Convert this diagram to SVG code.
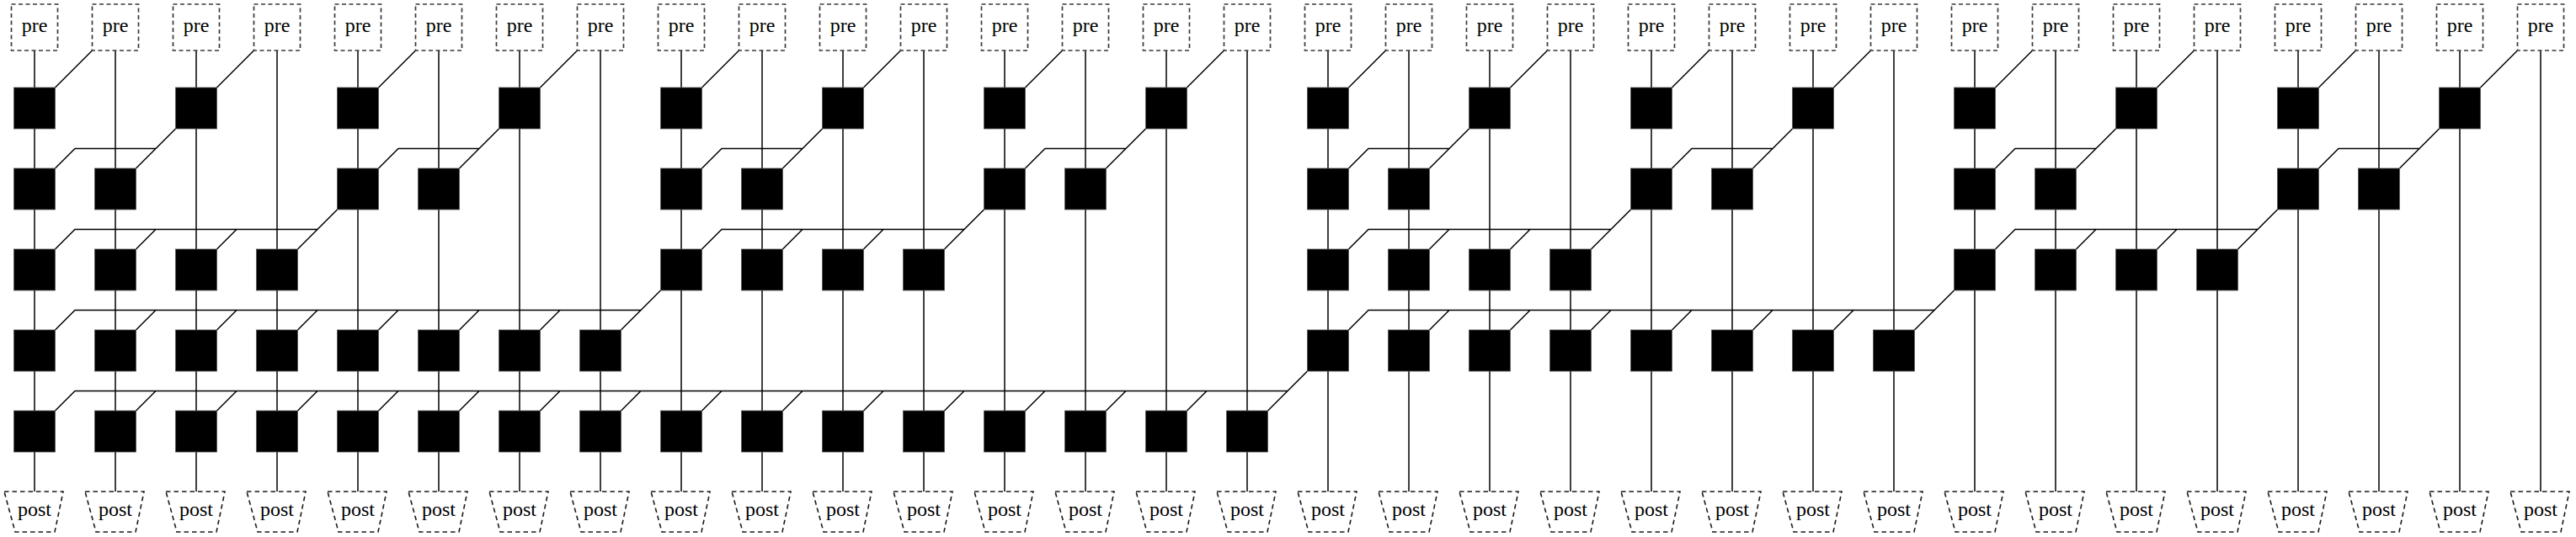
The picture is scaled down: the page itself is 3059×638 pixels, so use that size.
<svg xmlns="http://www.w3.org/2000/svg" xmlns:xlink="http://www.w3.org/1999/xlink" width="3059" height="638" viewBox="0 0 3059 638">
<style>
.pre{fill:#fff;stroke:#3a3a3a;stroke-width:1.7;stroke-dasharray:5 3.5}
.post{fill:#fff;stroke:#1a1a1a;stroke-width:1.6;stroke-dasharray:5.5 4}
.lbl{font-family:"Liberation Serif","DejaVu Serif",serif;font-size:24px;text-anchor:middle;fill:#000}
.wire{fill:none;stroke:#000;stroke-width:1.5}
.op{fill:#000;stroke:#555;stroke-width:0.8}
</style>
<defs>
<rect id="sq" class="op" x="-24.5" y="-24.5" width="49" height="49"/>
</defs>
<rect width="3059" height="638" fill="#fff"/>
<g id="connectors" class="wire">
<path d="M41 60V584M137 60V584M233 60V584M329 60V584M425 60V584M521 60V584M617 60V584M713 60V584M809 60V584M905 60V584M1001 60V584M1097 60V584M1193 60V584M1289 60V584M1385 60V584M1481 60V584M1577 60V584M1673 60V584M1769 60V584M1865 60V584M1961 60V584M2057 60V584M2153 60V584M2249 60V584M2345 60V584M2441 60V584M2537 60V584M2633 60V584M2729 60V584M2825 60V584M2921 60V584M3017 60V584"/>
<path d="M109.5 60l-44 44M301.5 60l-44 44M493.5 60l-44 44M685.5 60l-44 44M877.5 60l-44 44M1069.5 60l-44 44M1261.5 60l-44 44M1453.5 60l-44 44M1645.5 60l-44 44M1837.5 60l-44 44M2029.5 60l-44 44M2221.5 60l-44 44M2413.5 60l-44 44M2605.5 60l-44 44M2797.5 60l-44 44M2989.5 60l-44 44"/>
<path d="M208.5 153l-23.5 23.5H89l-23.5 23.5M185 176.5l-23.5 23.5
M592.5 153l-23.5 23.5H473l-23.5 23.5M569 176.5l-23.5 23.5
M976.5 153l-23.5 23.5H857l-23.5 23.5M953 176.5l-23.5 23.5
M1360.5 153l-23.5 23.5H1241l-23.5 23.5M1337 176.5l-23.5 23.5
M1744.5 153l-23.5 23.5H1625l-23.5 23.5M1721 176.5l-23.5 23.5
M2128.5 153l-23.5 23.5H2009l-23.5 23.5M2105 176.5l-23.5 23.5
M2512.5 153l-23.5 23.5H2393l-23.5 23.5M2489 176.5l-23.5 23.5
M2896.5 153l-23.5 23.5H2777l-23.5 23.5M2873 176.5l-23.5 23.5"/>
<path d="M400.5 249l-23.5 23.5H89l-23.5 23.5M185 272.5l-23.5 23.5M281 272.5l-23.5 23.5M377 272.5l-23.5 23.5
M1168.5 249l-23.5 23.5H857l-23.5 23.5M953 272.5l-23.5 23.5M1049 272.5l-23.5 23.5M1145 272.5l-23.5 23.5
M1936.5 249l-23.5 23.5H1625l-23.5 23.5M1721 272.5l-23.5 23.5M1817 272.5l-23.5 23.5M1913 272.5l-23.5 23.5
M2704.5 249l-23.5 23.5H2393l-23.5 23.5M2489 272.5l-23.5 23.5M2585 272.5l-23.5 23.5M2681 272.5l-23.5 23.5"/>
<path d="M784.5 345l-23.5 23.5H89l-23.5 23.5M185 368.5l-23.5 23.5M281 368.5l-23.5 23.5M377 368.5l-23.5 23.5M473 368.5l-23.5 23.5M569 368.5l-23.5 23.5M665 368.5l-23.5 23.5M761 368.5l-23.5 23.5
M2320.5 345l-23.5 23.5H1625l-23.5 23.5M1721 368.5l-23.5 23.5M1817 368.5l-23.5 23.5M1913 368.5l-23.5 23.5M2009 368.5l-23.5 23.5M2105 368.5l-23.5 23.5M2201 368.5l-23.5 23.5M2297 368.5l-23.5 23.5"/>
<path d="M1552.5 441l-23.5 23.5H89l-23.5 23.5M185 464.5l-23.5 23.5M281 464.5l-23.5 23.5M377 464.5l-23.5 23.5M473 464.5l-23.5 23.5M569 464.5l-23.5 23.5M665 464.5l-23.5 23.5M761 464.5l-23.5 23.5M857 464.5l-23.5 23.5M953 464.5l-23.5 23.5M1049 464.5l-23.5 23.5M1145 464.5l-23.5 23.5M1241 464.5l-23.5 23.5M1337 464.5l-23.5 23.5M1433 464.5l-23.5 23.5M1529 464.5l-23.5 23.5"/>
</g>
<g id="pre-nodes">
<g id="pre0" transform="translate(41 0)"><rect class="pre" x="-27.5" y="5" width="55" height="55"/><text class="lbl" x="0" y="38">pre</text></g>
<g id="pre1" transform="translate(137 0)"><rect class="pre" x="-27.5" y="5" width="55" height="55"/><text class="lbl" x="0" y="38">pre</text></g>
<g id="pre2" transform="translate(233 0)"><rect class="pre" x="-27.5" y="5" width="55" height="55"/><text class="lbl" x="0" y="38">pre</text></g>
<g id="pre3" transform="translate(329 0)"><rect class="pre" x="-27.5" y="5" width="55" height="55"/><text class="lbl" x="0" y="38">pre</text></g>
<g id="pre4" transform="translate(425 0)"><rect class="pre" x="-27.5" y="5" width="55" height="55"/><text class="lbl" x="0" y="38">pre</text></g>
<g id="pre5" transform="translate(521 0)"><rect class="pre" x="-27.5" y="5" width="55" height="55"/><text class="lbl" x="0" y="38">pre</text></g>
<g id="pre6" transform="translate(617 0)"><rect class="pre" x="-27.5" y="5" width="55" height="55"/><text class="lbl" x="0" y="38">pre</text></g>
<g id="pre7" transform="translate(713 0)"><rect class="pre" x="-27.5" y="5" width="55" height="55"/><text class="lbl" x="0" y="38">pre</text></g>
<g id="pre8" transform="translate(809 0)"><rect class="pre" x="-27.5" y="5" width="55" height="55"/><text class="lbl" x="0" y="38">pre</text></g>
<g id="pre9" transform="translate(905 0)"><rect class="pre" x="-27.5" y="5" width="55" height="55"/><text class="lbl" x="0" y="38">pre</text></g>
<g id="pre10" transform="translate(1001 0)"><rect class="pre" x="-27.5" y="5" width="55" height="55"/><text class="lbl" x="0" y="38">pre</text></g>
<g id="pre11" transform="translate(1097 0)"><rect class="pre" x="-27.5" y="5" width="55" height="55"/><text class="lbl" x="0" y="38">pre</text></g>
<g id="pre12" transform="translate(1193 0)"><rect class="pre" x="-27.5" y="5" width="55" height="55"/><text class="lbl" x="0" y="38">pre</text></g>
<g id="pre13" transform="translate(1289 0)"><rect class="pre" x="-27.5" y="5" width="55" height="55"/><text class="lbl" x="0" y="38">pre</text></g>
<g id="pre14" transform="translate(1385 0)"><rect class="pre" x="-27.5" y="5" width="55" height="55"/><text class="lbl" x="0" y="38">pre</text></g>
<g id="pre15" transform="translate(1481 0)"><rect class="pre" x="-27.5" y="5" width="55" height="55"/><text class="lbl" x="0" y="38">pre</text></g>
<g id="pre16" transform="translate(1577 0)"><rect class="pre" x="-27.5" y="5" width="55" height="55"/><text class="lbl" x="0" y="38">pre</text></g>
<g id="pre17" transform="translate(1673 0)"><rect class="pre" x="-27.5" y="5" width="55" height="55"/><text class="lbl" x="0" y="38">pre</text></g>
<g id="pre18" transform="translate(1769 0)"><rect class="pre" x="-27.5" y="5" width="55" height="55"/><text class="lbl" x="0" y="38">pre</text></g>
<g id="pre19" transform="translate(1865 0)"><rect class="pre" x="-27.5" y="5" width="55" height="55"/><text class="lbl" x="0" y="38">pre</text></g>
<g id="pre20" transform="translate(1961 0)"><rect class="pre" x="-27.5" y="5" width="55" height="55"/><text class="lbl" x="0" y="38">pre</text></g>
<g id="pre21" transform="translate(2057 0)"><rect class="pre" x="-27.5" y="5" width="55" height="55"/><text class="lbl" x="0" y="38">pre</text></g>
<g id="pre22" transform="translate(2153 0)"><rect class="pre" x="-27.5" y="5" width="55" height="55"/><text class="lbl" x="0" y="38">pre</text></g>
<g id="pre23" transform="translate(2249 0)"><rect class="pre" x="-27.5" y="5" width="55" height="55"/><text class="lbl" x="0" y="38">pre</text></g>
<g id="pre24" transform="translate(2345 0)"><rect class="pre" x="-27.5" y="5" width="55" height="55"/><text class="lbl" x="0" y="38">pre</text></g>
<g id="pre25" transform="translate(2441 0)"><rect class="pre" x="-27.5" y="5" width="55" height="55"/><text class="lbl" x="0" y="38">pre</text></g>
<g id="pre26" transform="translate(2537 0)"><rect class="pre" x="-27.5" y="5" width="55" height="55"/><text class="lbl" x="0" y="38">pre</text></g>
<g id="pre27" transform="translate(2633 0)"><rect class="pre" x="-27.5" y="5" width="55" height="55"/><text class="lbl" x="0" y="38">pre</text></g>
<g id="pre28" transform="translate(2729 0)"><rect class="pre" x="-27.5" y="5" width="55" height="55"/><text class="lbl" x="0" y="38">pre</text></g>
<g id="pre29" transform="translate(2825 0)"><rect class="pre" x="-27.5" y="5" width="55" height="55"/><text class="lbl" x="0" y="38">pre</text></g>
<g id="pre30" transform="translate(2921 0)"><rect class="pre" x="-27.5" y="5" width="55" height="55"/><text class="lbl" x="0" y="38">pre</text></g>
<g id="pre31" transform="translate(3017 0)"><rect class="pre" x="-27.5" y="5" width="55" height="55"/><text class="lbl" x="0" y="38">pre</text></g>
</g>
<g id="ops">
<g id="op0-0"><use href="#sq" x="41" y="128.5"/></g>
<g id="op0-2"><use href="#sq" x="233" y="128.5"/></g>
<g id="op0-4"><use href="#sq" x="425" y="128.5"/></g>
<g id="op0-6"><use href="#sq" x="617" y="128.5"/></g>
<g id="op0-8"><use href="#sq" x="809" y="128.5"/></g>
<g id="op0-10"><use href="#sq" x="1001" y="128.5"/></g>
<g id="op0-12"><use href="#sq" x="1193" y="128.5"/></g>
<g id="op0-14"><use href="#sq" x="1385" y="128.5"/></g>
<g id="op0-16"><use href="#sq" x="1577" y="128.5"/></g>
<g id="op0-18"><use href="#sq" x="1769" y="128.5"/></g>
<g id="op0-20"><use href="#sq" x="1961" y="128.5"/></g>
<g id="op0-22"><use href="#sq" x="2153" y="128.5"/></g>
<g id="op0-24"><use href="#sq" x="2345" y="128.5"/></g>
<g id="op0-26"><use href="#sq" x="2537" y="128.5"/></g>
<g id="op0-28"><use href="#sq" x="2729" y="128.5"/></g>
<g id="op0-30"><use href="#sq" x="2921" y="128.5"/></g>
<g id="op1-0"><use href="#sq" x="41" y="224.5"/></g>
<g id="op1-1"><use href="#sq" x="137" y="224.5"/></g>
<g id="op1-4"><use href="#sq" x="425" y="224.5"/></g>
<g id="op1-5"><use href="#sq" x="521" y="224.5"/></g>
<g id="op1-8"><use href="#sq" x="809" y="224.5"/></g>
<g id="op1-9"><use href="#sq" x="905" y="224.5"/></g>
<g id="op1-12"><use href="#sq" x="1193" y="224.5"/></g>
<g id="op1-13"><use href="#sq" x="1289" y="224.5"/></g>
<g id="op1-16"><use href="#sq" x="1577" y="224.5"/></g>
<g id="op1-17"><use href="#sq" x="1673" y="224.5"/></g>
<g id="op1-20"><use href="#sq" x="1961" y="224.5"/></g>
<g id="op1-21"><use href="#sq" x="2057" y="224.5"/></g>
<g id="op1-24"><use href="#sq" x="2345" y="224.5"/></g>
<g id="op1-25"><use href="#sq" x="2441" y="224.5"/></g>
<g id="op1-28"><use href="#sq" x="2729" y="224.5"/></g>
<g id="op1-29"><use href="#sq" x="2825" y="224.5"/></g>
<g id="op2-0"><use href="#sq" x="41" y="320.5"/></g>
<g id="op2-1"><use href="#sq" x="137" y="320.5"/></g>
<g id="op2-2"><use href="#sq" x="233" y="320.5"/></g>
<g id="op2-3"><use href="#sq" x="329" y="320.5"/></g>
<g id="op2-8"><use href="#sq" x="809" y="320.5"/></g>
<g id="op2-9"><use href="#sq" x="905" y="320.5"/></g>
<g id="op2-10"><use href="#sq" x="1001" y="320.5"/></g>
<g id="op2-11"><use href="#sq" x="1097" y="320.5"/></g>
<g id="op2-16"><use href="#sq" x="1577" y="320.5"/></g>
<g id="op2-17"><use href="#sq" x="1673" y="320.5"/></g>
<g id="op2-18"><use href="#sq" x="1769" y="320.5"/></g>
<g id="op2-19"><use href="#sq" x="1865" y="320.5"/></g>
<g id="op2-24"><use href="#sq" x="2345" y="320.5"/></g>
<g id="op2-25"><use href="#sq" x="2441" y="320.5"/></g>
<g id="op2-26"><use href="#sq" x="2537" y="320.5"/></g>
<g id="op2-27"><use href="#sq" x="2633" y="320.5"/></g>
<g id="op3-0"><use href="#sq" x="41" y="416.5"/></g>
<g id="op3-1"><use href="#sq" x="137" y="416.5"/></g>
<g id="op3-2"><use href="#sq" x="233" y="416.5"/></g>
<g id="op3-3"><use href="#sq" x="329" y="416.5"/></g>
<g id="op3-4"><use href="#sq" x="425" y="416.5"/></g>
<g id="op3-5"><use href="#sq" x="521" y="416.5"/></g>
<g id="op3-6"><use href="#sq" x="617" y="416.5"/></g>
<g id="op3-7"><use href="#sq" x="713" y="416.5"/></g>
<g id="op3-16"><use href="#sq" x="1577" y="416.5"/></g>
<g id="op3-17"><use href="#sq" x="1673" y="416.5"/></g>
<g id="op3-18"><use href="#sq" x="1769" y="416.5"/></g>
<g id="op3-19"><use href="#sq" x="1865" y="416.5"/></g>
<g id="op3-20"><use href="#sq" x="1961" y="416.5"/></g>
<g id="op3-21"><use href="#sq" x="2057" y="416.5"/></g>
<g id="op3-22"><use href="#sq" x="2153" y="416.5"/></g>
<g id="op3-23"><use href="#sq" x="2249" y="416.5"/></g>
<g id="op4-0"><use href="#sq" x="41" y="512.5"/></g>
<g id="op4-1"><use href="#sq" x="137" y="512.5"/></g>
<g id="op4-2"><use href="#sq" x="233" y="512.5"/></g>
<g id="op4-3"><use href="#sq" x="329" y="512.5"/></g>
<g id="op4-4"><use href="#sq" x="425" y="512.5"/></g>
<g id="op4-5"><use href="#sq" x="521" y="512.5"/></g>
<g id="op4-6"><use href="#sq" x="617" y="512.5"/></g>
<g id="op4-7"><use href="#sq" x="713" y="512.5"/></g>
<g id="op4-8"><use href="#sq" x="809" y="512.5"/></g>
<g id="op4-9"><use href="#sq" x="905" y="512.5"/></g>
<g id="op4-10"><use href="#sq" x="1001" y="512.5"/></g>
<g id="op4-11"><use href="#sq" x="1097" y="512.5"/></g>
<g id="op4-12"><use href="#sq" x="1193" y="512.5"/></g>
<g id="op4-13"><use href="#sq" x="1289" y="512.5"/></g>
<g id="op4-14"><use href="#sq" x="1385" y="512.5"/></g>
<g id="op4-15"><use href="#sq" x="1481" y="512.5"/></g>
</g>
<g id="post-nodes">
<g id="post0" transform="translate(41 0)"><polygon class="post" points="-36,584 34,584 24,632 -23,632"/><text class="lbl" x="0" y="613">post</text></g>
<g id="post1" transform="translate(137 0)"><polygon class="post" points="-36,584 34,584 24,632 -23,632"/><text class="lbl" x="0" y="613">post</text></g>
<g id="post2" transform="translate(233 0)"><polygon class="post" points="-36,584 34,584 24,632 -23,632"/><text class="lbl" x="0" y="613">post</text></g>
<g id="post3" transform="translate(329 0)"><polygon class="post" points="-36,584 34,584 24,632 -23,632"/><text class="lbl" x="0" y="613">post</text></g>
<g id="post4" transform="translate(425 0)"><polygon class="post" points="-36,584 34,584 24,632 -23,632"/><text class="lbl" x="0" y="613">post</text></g>
<g id="post5" transform="translate(521 0)"><polygon class="post" points="-36,584 34,584 24,632 -23,632"/><text class="lbl" x="0" y="613">post</text></g>
<g id="post6" transform="translate(617 0)"><polygon class="post" points="-36,584 34,584 24,632 -23,632"/><text class="lbl" x="0" y="613">post</text></g>
<g id="post7" transform="translate(713 0)"><polygon class="post" points="-36,584 34,584 24,632 -23,632"/><text class="lbl" x="0" y="613">post</text></g>
<g id="post8" transform="translate(809 0)"><polygon class="post" points="-36,584 34,584 24,632 -23,632"/><text class="lbl" x="0" y="613">post</text></g>
<g id="post9" transform="translate(905 0)"><polygon class="post" points="-36,584 34,584 24,632 -23,632"/><text class="lbl" x="0" y="613">post</text></g>
<g id="post10" transform="translate(1001 0)"><polygon class="post" points="-36,584 34,584 24,632 -23,632"/><text class="lbl" x="0" y="613">post</text></g>
<g id="post11" transform="translate(1097 0)"><polygon class="post" points="-36,584 34,584 24,632 -23,632"/><text class="lbl" x="0" y="613">post</text></g>
<g id="post12" transform="translate(1193 0)"><polygon class="post" points="-36,584 34,584 24,632 -23,632"/><text class="lbl" x="0" y="613">post</text></g>
<g id="post13" transform="translate(1289 0)"><polygon class="post" points="-36,584 34,584 24,632 -23,632"/><text class="lbl" x="0" y="613">post</text></g>
<g id="post14" transform="translate(1385 0)"><polygon class="post" points="-36,584 34,584 24,632 -23,632"/><text class="lbl" x="0" y="613">post</text></g>
<g id="post15" transform="translate(1481 0)"><polygon class="post" points="-36,584 34,584 24,632 -23,632"/><text class="lbl" x="0" y="613">post</text></g>
<g id="post16" transform="translate(1577 0)"><polygon class="post" points="-36,584 34,584 24,632 -23,632"/><text class="lbl" x="0" y="613">post</text></g>
<g id="post17" transform="translate(1673 0)"><polygon class="post" points="-36,584 34,584 24,632 -23,632"/><text class="lbl" x="0" y="613">post</text></g>
<g id="post18" transform="translate(1769 0)"><polygon class="post" points="-36,584 34,584 24,632 -23,632"/><text class="lbl" x="0" y="613">post</text></g>
<g id="post19" transform="translate(1865 0)"><polygon class="post" points="-36,584 34,584 24,632 -23,632"/><text class="lbl" x="0" y="613">post</text></g>
<g id="post20" transform="translate(1961 0)"><polygon class="post" points="-36,584 34,584 24,632 -23,632"/><text class="lbl" x="0" y="613">post</text></g>
<g id="post21" transform="translate(2057 0)"><polygon class="post" points="-36,584 34,584 24,632 -23,632"/><text class="lbl" x="0" y="613">post</text></g>
<g id="post22" transform="translate(2153 0)"><polygon class="post" points="-36,584 34,584 24,632 -23,632"/><text class="lbl" x="0" y="613">post</text></g>
<g id="post23" transform="translate(2249 0)"><polygon class="post" points="-36,584 34,584 24,632 -23,632"/><text class="lbl" x="0" y="613">post</text></g>
<g id="post24" transform="translate(2345 0)"><polygon class="post" points="-36,584 34,584 24,632 -23,632"/><text class="lbl" x="0" y="613">post</text></g>
<g id="post25" transform="translate(2441 0)"><polygon class="post" points="-36,584 34,584 24,632 -23,632"/><text class="lbl" x="0" y="613">post</text></g>
<g id="post26" transform="translate(2537 0)"><polygon class="post" points="-36,584 34,584 24,632 -23,632"/><text class="lbl" x="0" y="613">post</text></g>
<g id="post27" transform="translate(2633 0)"><polygon class="post" points="-36,584 34,584 24,632 -23,632"/><text class="lbl" x="0" y="613">post</text></g>
<g id="post28" transform="translate(2729 0)"><polygon class="post" points="-36,584 34,584 24,632 -23,632"/><text class="lbl" x="0" y="613">post</text></g>
<g id="post29" transform="translate(2825 0)"><polygon class="post" points="-36,584 34,584 24,632 -23,632"/><text class="lbl" x="0" y="613">post</text></g>
<g id="post30" transform="translate(2921 0)"><polygon class="post" points="-36,584 34,584 24,632 -23,632"/><text class="lbl" x="0" y="613">post</text></g>
<g id="post31" transform="translate(3017 0)"><polygon class="post" points="-36,584 34,584 24,632 -23,632"/><text class="lbl" x="0" y="613">post</text></g>
</g>
</svg>
